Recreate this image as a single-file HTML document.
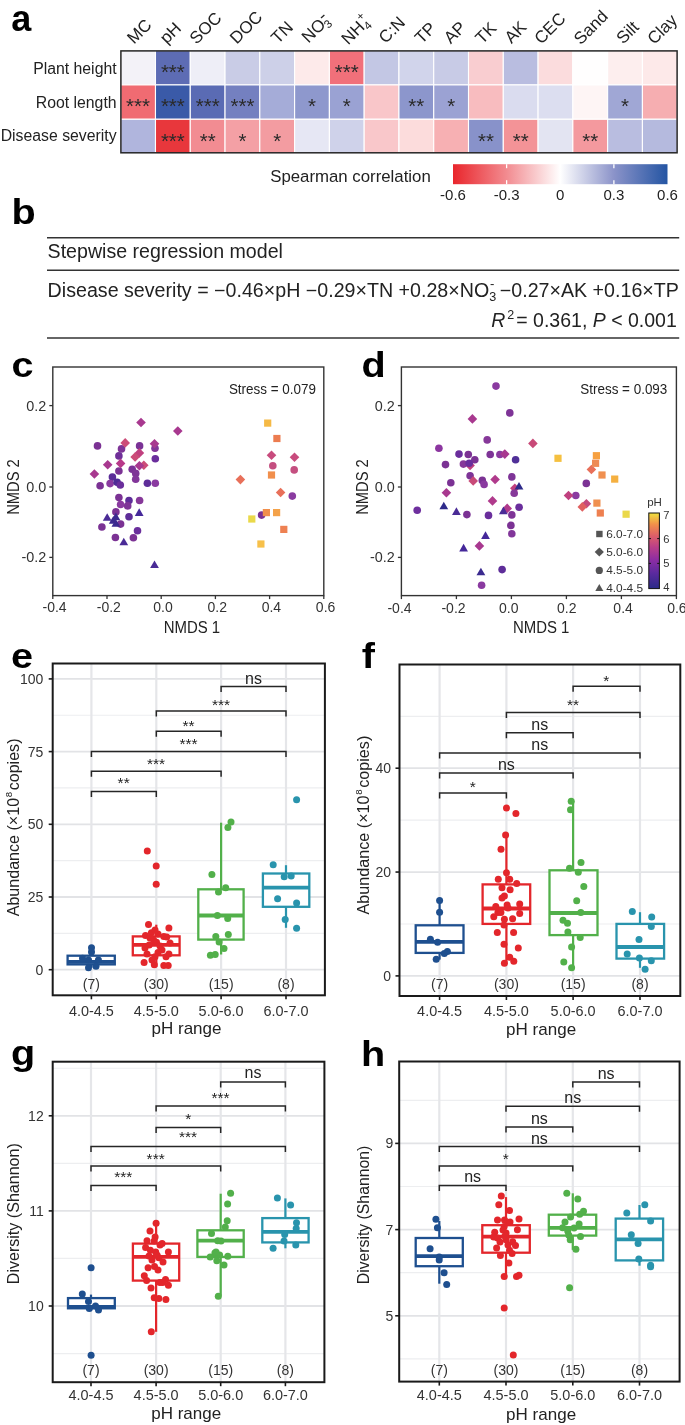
<!DOCTYPE html>
<html><head><meta charset="utf-8"><title>Figure</title>
<style>
html,body{margin:0;padding:0;background:#fff;}
body{width:685px;height:1425px;overflow:hidden;}
svg{display:block;font-family:"Liberation Sans", sans-serif;will-change:transform;}
</style></head><body>
<svg width="685" height="1425" viewBox="0 0 685 1425">
<rect width="685" height="1425" fill="#fff"/>
<g fill="#222">
<text x="0" y="0" font-size="36" font-weight="bold" fill="#000" transform="translate(11.30 31.00) scale(1.0 1)">a</text>
<rect x="120.70" y="50.60" width="34.78" height="34.33" fill="#f3f2f8" stroke="#fff" stroke-width="1.1"/>
<rect x="155.48" y="50.60" width="34.78" height="34.33" fill="#5d6cb4" stroke="#fff" stroke-width="1.1"/>
<rect x="190.26" y="50.60" width="34.78" height="34.33" fill="#eeeef7" stroke="#fff" stroke-width="1.1"/>
<rect x="225.04" y="50.60" width="34.78" height="34.33" fill="#c9cce6" stroke="#fff" stroke-width="1.1"/>
<rect x="259.82" y="50.60" width="34.78" height="34.33" fill="#cdd0e8" stroke="#fff" stroke-width="1.1"/>
<rect x="294.61" y="50.60" width="34.78" height="34.33" fill="#fdeaea" stroke="#fff" stroke-width="1.1"/>
<rect x="329.39" y="50.60" width="34.78" height="34.33" fill="#f1707a" stroke="#fff" stroke-width="1.1"/>
<rect x="364.17" y="50.60" width="34.78" height="34.33" fill="#c3c7e4" stroke="#fff" stroke-width="1.1"/>
<rect x="398.95" y="50.60" width="34.78" height="34.33" fill="#d1d4eb" stroke="#fff" stroke-width="1.1"/>
<rect x="433.73" y="50.60" width="34.78" height="34.33" fill="#c8cbe6" stroke="#fff" stroke-width="1.1"/>
<rect x="468.51" y="50.60" width="34.78" height="34.33" fill="#f9cdd0" stroke="#fff" stroke-width="1.1"/>
<rect x="503.29" y="50.60" width="34.78" height="34.33" fill="#b9bde0" stroke="#fff" stroke-width="1.1"/>
<rect x="538.08" y="50.60" width="34.78" height="34.33" fill="#fbdcdd" stroke="#fff" stroke-width="1.1"/>
<rect x="572.86" y="50.60" width="34.78" height="34.33" fill="#fffefe" stroke="#fff" stroke-width="1.1"/>
<rect x="607.64" y="50.60" width="34.78" height="34.33" fill="#fdeeee" stroke="#fff" stroke-width="1.1"/>
<rect x="642.42" y="50.60" width="34.78" height="34.33" fill="#fde9e9" stroke="#fff" stroke-width="1.1"/>
<rect x="120.70" y="84.93" width="34.78" height="34.33" fill="#f06b72" stroke="#fff" stroke-width="1.1"/>
<rect x="155.48" y="84.93" width="34.78" height="34.33" fill="#3a5aa8" stroke="#fff" stroke-width="1.1"/>
<rect x="190.26" y="84.93" width="34.78" height="34.33" fill="#5a6bb4" stroke="#fff" stroke-width="1.1"/>
<rect x="225.04" y="84.93" width="34.78" height="34.33" fill="#7480c0" stroke="#fff" stroke-width="1.1"/>
<rect x="259.82" y="84.93" width="34.78" height="34.33" fill="#a5acd8" stroke="#fff" stroke-width="1.1"/>
<rect x="294.61" y="84.93" width="34.78" height="34.33" fill="#8e98cd" stroke="#fff" stroke-width="1.1"/>
<rect x="329.39" y="84.93" width="34.78" height="34.33" fill="#9aa2d3" stroke="#fff" stroke-width="1.1"/>
<rect x="364.17" y="84.93" width="34.78" height="34.33" fill="#f9c6c9" stroke="#fff" stroke-width="1.1"/>
<rect x="398.95" y="84.93" width="34.78" height="34.33" fill="#8c96cc" stroke="#fff" stroke-width="1.1"/>
<rect x="433.73" y="84.93" width="34.78" height="34.33" fill="#9ba2d3" stroke="#fff" stroke-width="1.1"/>
<rect x="468.51" y="84.93" width="34.78" height="34.33" fill="#f8bcbf" stroke="#fff" stroke-width="1.1"/>
<rect x="503.29" y="84.93" width="34.78" height="34.33" fill="#dadcef" stroke="#fff" stroke-width="1.1"/>
<rect x="538.08" y="84.93" width="34.78" height="34.33" fill="#dcdef0" stroke="#fff" stroke-width="1.1"/>
<rect x="572.86" y="84.93" width="34.78" height="34.33" fill="#fef5f5" stroke="#fff" stroke-width="1.1"/>
<rect x="607.64" y="84.93" width="34.78" height="34.33" fill="#a0a7d5" stroke="#fff" stroke-width="1.1"/>
<rect x="642.42" y="84.93" width="34.78" height="34.33" fill="#f6aeb1" stroke="#fff" stroke-width="1.1"/>
<rect x="120.70" y="119.27" width="34.78" height="34.33" fill="#b0b5dd" stroke="#fff" stroke-width="1.1"/>
<rect x="155.48" y="119.27" width="34.78" height="34.33" fill="#e8373c" stroke="#fff" stroke-width="1.1"/>
<rect x="190.26" y="119.27" width="34.78" height="34.33" fill="#f28c92" stroke="#fff" stroke-width="1.1"/>
<rect x="225.04" y="119.27" width="34.78" height="34.33" fill="#f4a0a5" stroke="#fff" stroke-width="1.1"/>
<rect x="259.82" y="119.27" width="34.78" height="34.33" fill="#f39ca1" stroke="#fff" stroke-width="1.1"/>
<rect x="294.61" y="119.27" width="34.78" height="34.33" fill="#e6e7f4" stroke="#fff" stroke-width="1.1"/>
<rect x="329.39" y="119.27" width="34.78" height="34.33" fill="#cfd2ea" stroke="#fff" stroke-width="1.1"/>
<rect x="364.17" y="119.27" width="34.78" height="34.33" fill="#f9c7ca" stroke="#fff" stroke-width="1.1"/>
<rect x="398.95" y="119.27" width="34.78" height="34.33" fill="#fcdcdc" stroke="#fff" stroke-width="1.1"/>
<rect x="433.73" y="119.27" width="34.78" height="34.33" fill="#f7b0b3" stroke="#fff" stroke-width="1.1"/>
<rect x="468.51" y="119.27" width="34.78" height="34.33" fill="#8892ca" stroke="#fff" stroke-width="1.1"/>
<rect x="503.29" y="119.27" width="34.78" height="34.33" fill="#f39397" stroke="#fff" stroke-width="1.1"/>
<rect x="538.08" y="119.27" width="34.78" height="34.33" fill="#e3e4f2" stroke="#fff" stroke-width="1.1"/>
<rect x="572.86" y="119.27" width="34.78" height="34.33" fill="#f4999e" stroke="#fff" stroke-width="1.1"/>
<rect x="607.64" y="119.27" width="34.78" height="34.33" fill="#b9bde0" stroke="#fff" stroke-width="1.1"/>
<rect x="642.42" y="119.27" width="34.78" height="34.33" fill="#b5bade" stroke="#fff" stroke-width="1.1"/>
<text x="172.87" y="78.97" font-size="20.5" text-anchor="middle" fill="#2a2a2a">***</text>
<text x="346.78" y="78.97" font-size="20.5" text-anchor="middle" fill="#2a2a2a">***</text>
<text x="138.09" y="113.30" font-size="20.5" text-anchor="middle" fill="#2a2a2a">***</text>
<text x="172.87" y="113.30" font-size="20.5" text-anchor="middle" fill="#2a2a2a">***</text>
<text x="207.65" y="113.30" font-size="20.5" text-anchor="middle" fill="#2a2a2a">***</text>
<text x="242.43" y="113.30" font-size="20.5" text-anchor="middle" fill="#2a2a2a">***</text>
<text x="312.00" y="113.30" font-size="20.5" text-anchor="middle" fill="#2a2a2a">*</text>
<text x="346.78" y="113.30" font-size="20.5" text-anchor="middle" fill="#2a2a2a">*</text>
<text x="416.34" y="113.30" font-size="20.5" text-anchor="middle" fill="#2a2a2a">**</text>
<text x="451.12" y="113.30" font-size="20.5" text-anchor="middle" fill="#2a2a2a">*</text>
<text x="625.03" y="113.30" font-size="20.5" text-anchor="middle" fill="#2a2a2a">*</text>
<text x="172.87" y="147.63" font-size="20.5" text-anchor="middle" fill="#2a2a2a">***</text>
<text x="207.65" y="147.63" font-size="20.5" text-anchor="middle" fill="#2a2a2a">**</text>
<text x="242.43" y="147.63" font-size="20.5" text-anchor="middle" fill="#2a2a2a">*</text>
<text x="277.22" y="147.63" font-size="20.5" text-anchor="middle" fill="#2a2a2a">*</text>
<text x="485.90" y="147.63" font-size="20.5" text-anchor="middle" fill="#2a2a2a">**</text>
<text x="520.68" y="147.63" font-size="20.5" text-anchor="middle" fill="#2a2a2a">**</text>
<text x="590.25" y="147.63" font-size="20.5" text-anchor="middle" fill="#2a2a2a">**</text>
<rect x="120.90" y="50.90" width="556.20" height="101.90" fill="none" stroke="#262626" stroke-width="1.5"/>
<text x="116.60" y="73.70" font-size="15.8" text-anchor="end">Plant height</text>
<text x="116.60" y="108.00" font-size="15.8" text-anchor="end">Root length</text>
<text x="116.60" y="141.20" font-size="15.8" text-anchor="end">Disease severity</text>
<text x="139.50" y="31.60" font-size="17" text-anchor="middle" dominant-baseline="central" transform="rotate(-45 139.50 31.60)">MC</text>
<text x="170.50" y="33.00" font-size="17" text-anchor="middle" dominant-baseline="central" transform="rotate(-45 170.50 33.00)">pH</text>
<text x="205.70" y="28.10" font-size="17" text-anchor="middle" dominant-baseline="central" transform="rotate(-45 205.70 28.10)">SOC</text>
<text x="246.20" y="27.50" font-size="17" text-anchor="middle" dominant-baseline="central" transform="rotate(-45 246.20 27.50)">DOC</text>
<text x="282.20" y="32.50" font-size="17" text-anchor="middle" dominant-baseline="central" transform="rotate(-45 282.20 32.50)">TN</text>
<line x1="321.00" y1="18.10" x2="324.40" y2="15.00" stroke="#222" stroke-width="1.3"/>
<text x="315.60" y="28.90" font-size="17" text-anchor="middle" dominant-baseline="central" transform="rotate(-45 315.60 28.90)">NO<tspan font-size="11.5" dx="-0.8" dy="5.2">3</tspan></text>
<text x="355.90" y="30.00" font-size="17" text-anchor="middle" dominant-baseline="central" transform="rotate(-45 355.90 30.00)">NH<tspan font-size="11.5" dy="5.2">4</tspan><tspan font-size="11.5" dx="-5.2" dy="-12">+</tspan></text>
<text x="392.00" y="30.00" font-size="17" text-anchor="middle" dominant-baseline="central" transform="rotate(-45 392.00 30.00)">C:N</text>
<text x="425.50" y="33.00" font-size="17" text-anchor="middle" dominant-baseline="central" transform="rotate(-45 425.50 33.00)">TP</text>
<text x="455.00" y="32.60" font-size="17" text-anchor="middle" dominant-baseline="central" transform="rotate(-45 455.00 32.60)">AP</text>
<text x="486.00" y="33.10" font-size="17" text-anchor="middle" dominant-baseline="central" transform="rotate(-45 486.00 33.10)">TK</text>
<text x="515.70" y="32.40" font-size="17" text-anchor="middle" dominant-baseline="central" transform="rotate(-45 515.70 32.40)">AK</text>
<text x="550.00" y="28.40" font-size="17" text-anchor="middle" dominant-baseline="central" transform="rotate(-45 550.00 28.40)">CEC</text>
<text x="590.90" y="27.50" font-size="17" text-anchor="middle" dominant-baseline="central" transform="rotate(-45 590.90 27.50)">Sand</text>
<text x="627.70" y="32.60" font-size="17" text-anchor="middle" dominant-baseline="central" transform="rotate(-45 627.70 32.60)">Silt</text>
<text x="662.40" y="29.40" font-size="17" text-anchor="middle" dominant-baseline="central" transform="rotate(-45 662.40 29.40)">Clay</text>
<text x="270.20" y="181.90" font-size="16.8" textLength="160.60" lengthAdjust="spacingAndGlyphs">Spearman correlation</text>
<defs><linearGradient id="cb" x1="0" x2="1" y1="0" y2="0"><stop offset="0" stop-color="#e9262c"/><stop offset="0.25" stop-color="#f28b90"/><stop offset="0.5" stop-color="#ffffff"/><stop offset="0.75" stop-color="#8b93c9"/><stop offset="1" stop-color="#2455a3"/></linearGradient></defs>
<rect x="453.00" y="164.20" width="214.50" height="20.00" fill="url(#cb)"/>
<line x1="506.62" y1="164.20" x2="506.62" y2="168.20" stroke="#fff" stroke-width="1.3"/>
<line x1="506.62" y1="180.20" x2="506.62" y2="184.20" stroke="#fff" stroke-width="1.3"/>
<line x1="560.25" y1="164.20" x2="560.25" y2="168.20" stroke="#fff" stroke-width="1.3"/>
<line x1="560.25" y1="180.20" x2="560.25" y2="184.20" stroke="#fff" stroke-width="1.3"/>
<line x1="613.88" y1="164.20" x2="613.88" y2="168.20" stroke="#fff" stroke-width="1.3"/>
<line x1="613.88" y1="180.20" x2="613.88" y2="184.20" stroke="#fff" stroke-width="1.3"/>
<text x="453.00" y="199.60" font-size="15.0" text-anchor="middle">-0.6</text>
<text x="506.62" y="199.60" font-size="15.0" text-anchor="middle">-0.3</text>
<text x="560.25" y="199.60" font-size="15.0" text-anchor="middle">0</text>
<text x="613.88" y="199.60" font-size="15.0" text-anchor="middle">0.3</text>
<text x="667.50" y="199.60" font-size="15.0" text-anchor="middle">0.6</text>
<text x="0" y="0" font-size="36" font-weight="bold" fill="#000" transform="translate(11.50 223.60) scale(1.1 1)">b</text>
<line x1="47.00" y1="237.70" x2="679.20" y2="237.70" stroke="#333" stroke-width="1.5"/>
<line x1="47.00" y1="270.30" x2="679.20" y2="270.30" stroke="#333" stroke-width="1.5"/>
<line x1="47.00" y1="338.00" x2="679.20" y2="338.00" stroke="#333" stroke-width="1.5"/>
<text x="47.60" y="258.40" font-size="19.5" textLength="235.30" lengthAdjust="spacingAndGlyphs">Stepwise regression model</text>
<text x="47.6" y="296.7" font-size="19.5" textLength="631.3" lengthAdjust="spacingAndGlyphs">Disease severity = −0.46×pH −0.29×TN +0.28×NO<tspan font-size="12.5" dy="4">3</tspan><tspan font-size="13" dx="-6.2" dy="-13">-</tspan><tspan dy="9"> −0.27×AK +0.16×TP</tspan></text>
<text x="676.8" y="326.6" font-size="19.5" text-anchor="end"><tspan font-style="italic">R</tspan><tspan font-size="12.5" dx="1.8" dy="-8">2</tspan><tspan dx="2.2" dy="8">= 0.361, </tspan><tspan font-style="italic">P</tspan><tspan> &lt; 0.001</tspan></text>
<text x="0" y="0" font-size="36" font-weight="bold" fill="#000" transform="translate(11.50 376.80) scale(1.1 1)">c</text>
<rect x="52.80" y="367.00" width="271.00" height="228.60" fill="none" stroke="#333" stroke-width="1.4"/>
<line x1="52.80" y1="595.60" x2="52.80" y2="599.10" stroke="#333" stroke-width="1.3"/>
<text x="54.60" y="612.20" font-size="14.0" text-anchor="middle" fill="#333">-0.4</text>
<line x1="107.00" y1="595.60" x2="107.00" y2="599.10" stroke="#333" stroke-width="1.3"/>
<text x="108.80" y="612.20" font-size="14.0" text-anchor="middle" fill="#333">-0.2</text>
<line x1="161.20" y1="595.60" x2="161.20" y2="599.10" stroke="#333" stroke-width="1.3"/>
<text x="163.00" y="612.20" font-size="14.0" text-anchor="middle" fill="#333">0.0</text>
<line x1="215.40" y1="595.60" x2="215.40" y2="599.10" stroke="#333" stroke-width="1.3"/>
<text x="217.20" y="612.20" font-size="14.0" text-anchor="middle" fill="#333">0.2</text>
<line x1="269.60" y1="595.60" x2="269.60" y2="599.10" stroke="#333" stroke-width="1.3"/>
<text x="271.40" y="612.20" font-size="14.0" text-anchor="middle" fill="#333">0.4</text>
<line x1="323.80" y1="595.60" x2="323.80" y2="599.10" stroke="#333" stroke-width="1.3"/>
<text x="325.60" y="612.20" font-size="14.0" text-anchor="middle" fill="#333">0.6</text>
<line x1="49.30" y1="405.60" x2="52.80" y2="405.60" stroke="#333" stroke-width="1.3"/>
<text x="46.20" y="410.60" font-size="14.4" text-anchor="end" fill="#333">0.2</text>
<line x1="49.30" y1="487.00" x2="52.80" y2="487.00" stroke="#333" stroke-width="1.3"/>
<text x="46.20" y="492.00" font-size="14.4" text-anchor="end" fill="#333">0.0</text>
<line x1="49.30" y1="557.40" x2="52.80" y2="557.40" stroke="#333" stroke-width="1.3"/>
<text x="46.20" y="562.40" font-size="14.4" text-anchor="end" fill="#333">-0.2</text>
<text x="191.90" y="632.80" font-size="15.8" text-anchor="middle" textLength="56.50" lengthAdjust="spacingAndGlyphs">NMDS 1</text>
<text x="19.30" y="487.00" font-size="15.8" text-anchor="middle" textLength="55.60" lengthAdjust="spacingAndGlyphs" transform="rotate(-90 19.30 487.00)">NMDS 2</text>
<text x="315.90" y="393.50" font-size="14.0" text-anchor="end" textLength="87.00" lengthAdjust="spacingAndGlyphs">Stress = 0.079</text>
<text x="0" y="0" font-size="36" font-weight="bold" fill="#000" transform="translate(361.50 376.80) scale(1.1 1)">d</text>
<rect x="401.40" y="367.00" width="275.00" height="228.60" fill="none" stroke="#333" stroke-width="1.4"/>
<line x1="401.40" y1="595.60" x2="401.40" y2="599.10" stroke="#333" stroke-width="1.3"/>
<text x="399.50" y="612.90" font-size="14.0" text-anchor="middle" fill="#333">-0.4</text>
<line x1="456.40" y1="595.60" x2="456.40" y2="599.10" stroke="#333" stroke-width="1.3"/>
<text x="453.50" y="612.90" font-size="14.0" text-anchor="middle" fill="#333">-0.2</text>
<line x1="511.40" y1="595.60" x2="511.40" y2="599.10" stroke="#333" stroke-width="1.3"/>
<text x="508.80" y="612.90" font-size="14.0" text-anchor="middle" fill="#333">0.0</text>
<line x1="566.40" y1="595.60" x2="566.40" y2="599.10" stroke="#333" stroke-width="1.3"/>
<text x="566.70" y="612.90" font-size="14.0" text-anchor="middle" fill="#333">0.2</text>
<line x1="621.40" y1="595.60" x2="621.40" y2="599.10" stroke="#333" stroke-width="1.3"/>
<text x="623.10" y="612.90" font-size="14.0" text-anchor="middle" fill="#333">0.4</text>
<line x1="676.40" y1="595.60" x2="676.40" y2="599.10" stroke="#333" stroke-width="1.3"/>
<text x="676.90" y="612.90" font-size="14.0" text-anchor="middle" fill="#333">0.6</text>
<line x1="397.90" y1="405.60" x2="401.40" y2="405.60" stroke="#333" stroke-width="1.3"/>
<text x="394.80" y="410.60" font-size="14.4" text-anchor="end" fill="#333">0.2</text>
<line x1="397.90" y1="487.00" x2="401.40" y2="487.00" stroke="#333" stroke-width="1.3"/>
<text x="394.80" y="492.00" font-size="14.4" text-anchor="end" fill="#333">0.0</text>
<line x1="397.90" y1="557.40" x2="401.40" y2="557.40" stroke="#333" stroke-width="1.3"/>
<text x="394.80" y="562.40" font-size="14.4" text-anchor="end" fill="#333">-0.2</text>
<text x="541.20" y="632.80" font-size="15.8" text-anchor="middle" textLength="56.50" lengthAdjust="spacingAndGlyphs">NMDS 1</text>
<text x="367.80" y="487.00" font-size="15.8" text-anchor="middle" textLength="55.60" lengthAdjust="spacingAndGlyphs" transform="rotate(-90 367.80 487.00)">NMDS 2</text>
<text x="667.30" y="393.50" font-size="14.0" text-anchor="end" textLength="87.00" lengthAdjust="spacingAndGlyphs">Stress = 0.093</text>
<circle cx="97.50" cy="445.90" r="3.8" fill="#7b3294"/>
<circle cx="121.50" cy="448.90" r="3.8" fill="#7e3497"/>
<circle cx="139.60" cy="445.90" r="3.8" fill="#7a3296"/>
<circle cx="155.00" cy="448.20" r="3.8" fill="#813599"/>
<circle cx="118.90" cy="455.90" r="3.8" fill="#6f2f98"/>
<circle cx="155.30" cy="458.70" r="3.8" fill="#6a2e9c"/>
<circle cx="132.20" cy="469.20" r="3.8" fill="#7a3296"/>
<circle cx="118.90" cy="471.00" r="3.8" fill="#7b3294"/>
<circle cx="135.70" cy="473.40" r="3.8" fill="#7e3497"/>
<circle cx="135.70" cy="479.20" r="3.8" fill="#82369a"/>
<circle cx="112.40" cy="477.10" r="3.8" fill="#5b2c98"/>
<circle cx="110.10" cy="483.60" r="3.8" fill="#8a3aa0"/>
<circle cx="117.10" cy="482.20" r="3.8" fill="#4e2b96"/>
<circle cx="120.30" cy="485.00" r="3.8" fill="#6a2e9c"/>
<circle cx="100.10" cy="485.70" r="3.8" fill="#7b3294"/>
<circle cx="147.40" cy="483.20" r="3.8" fill="#5e2d99"/>
<circle cx="155.30" cy="483.20" r="3.8" fill="#8a3aa0"/>
<circle cx="118.90" cy="497.60" r="3.8" fill="#7b3294"/>
<circle cx="129.00" cy="500.50" r="3.8" fill="#5e2d99"/>
<circle cx="139.60" cy="500.50" r="3.8" fill="#863899"/>
<circle cx="120.60" cy="504.50" r="3.8" fill="#8a3aa0"/>
<circle cx="127.70" cy="505.90" r="3.8" fill="#7e3497"/>
<circle cx="115.90" cy="511.90" r="3.8" fill="#7b3294"/>
<circle cx="129.00" cy="516.80" r="3.8" fill="#5e2d99"/>
<circle cx="120.60" cy="524.10" r="3.8" fill="#7b3294"/>
<circle cx="101.90" cy="527.00" r="3.8" fill="#7b3294"/>
<circle cx="137.50" cy="530.80" r="3.8" fill="#6a2e9c"/>
<circle cx="115.40" cy="537.50" r="3.8" fill="#7b3294"/>
<circle cx="133.40" cy="537.80" r="3.8" fill="#7b3294"/>
<circle cx="272.80" cy="465.80" r="3.8" fill="#c44f80"/>
<circle cx="294.20" cy="469.90" r="3.8" fill="#c44f80"/>
<circle cx="292.30" cy="496.10" r="3.8" fill="#8a3ba0"/>
<circle cx="261.60" cy="515.10" r="3.8" fill="#7a3294"/>
<path d="M141.00 417.70L145.80 422.50L141.00 427.30L136.20 422.50Z" fill="#a8388f"/>
<path d="M177.80 426.20L182.60 431.00L177.80 435.80L173.00 431.00Z" fill="#a8388f"/>
<path d="M125.20 438.10L130.00 442.90L125.20 447.70L120.40 442.90Z" fill="#cc4c78"/>
<path d="M154.50 438.90L159.30 443.70L154.50 448.50L149.70 443.70Z" fill="#a8388f"/>
<path d="M139.40 448.10L144.20 452.90L139.40 457.70L134.60 452.90Z" fill="#c0407f"/>
<path d="M135.10 452.20L139.90 457.00L135.10 461.80L130.30 457.00Z" fill="#cc4c78"/>
<path d="M107.70 460.00L112.50 464.80L107.70 469.60L102.90 464.80Z" fill="#a8388f"/>
<path d="M120.60 458.60L125.40 463.40L120.60 468.20L115.80 463.40Z" fill="#b8398a"/>
<path d="M143.80 460.40L148.60 465.20L143.80 470.00L139.00 465.20Z" fill="#cc4c78"/>
<path d="M139.40 460.90L144.20 465.70L139.40 470.50L134.60 465.70Z" fill="#a8388f"/>
<path d="M94.40 469.20L99.20 474.00L94.40 478.80L89.60 474.00Z" fill="#a8388f"/>
<path d="M271.50 450.50L276.30 455.30L271.50 460.10L266.70 455.30Z" fill="#c84b7d"/>
<path d="M294.50 452.40L299.30 457.20L294.50 462.00L289.70 457.20Z" fill="#c84b7d"/>
<path d="M240.40 474.80L245.20 479.60L240.40 484.40L235.60 479.60Z" fill="#e8705a"/>
<path d="M280.60 487.70L285.40 492.50L280.60 497.30L275.80 492.50Z" fill="#e8705a"/>
<path d="M139.20 508.33L143.60 515.95L134.80 515.95Z" fill="#45289a"/>
<path d="M107.20 513.13L111.60 520.75L102.80 520.75Z" fill="#4a2b96"/>
<path d="M115.90 512.53L120.30 520.15L111.50 520.15Z" fill="#3b2a8f"/>
<path d="M113.30 516.03L117.70 523.65L108.90 523.65Z" fill="#3b2a8f"/>
<path d="M115.90 519.23L120.30 526.85L111.50 526.85Z" fill="#3b2a8f"/>
<path d="M123.80 537.63L128.20 545.25L119.40 545.25Z" fill="#4a2b96"/>
<path d="M154.50 560.43L158.90 568.05L150.10 568.05Z" fill="#4a2b96"/>
<rect x="264.10" y="419.50" width="7.2" height="7.2" fill="#f5b945"/>
<rect x="273.30" y="434.90" width="7.2" height="7.2" fill="#ec7c50"/>
<rect x="267.90" y="471.40" width="7.2" height="7.2" fill="#f18f4c"/>
<rect x="262.80" y="509.00" width="7.2" height="7.2" fill="#f18f4c"/>
<rect x="273.00" y="509.00" width="7.2" height="7.2" fill="#f4a24a"/>
<rect x="248.20" y="515.40" width="7.2" height="7.2" fill="#ead94a"/>
<rect x="280.20" y="525.80" width="7.2" height="7.2" fill="#ee8152"/>
<rect x="257.30" y="540.40" width="7.2" height="7.2" fill="#f7c04a"/>
<path d="M470.10 460.70L474.90 465.50L470.10 470.30L465.30 465.50Z" fill="#c0407f"/>
<path d="M514.80 483.50L519.60 488.30L514.80 493.10L510.00 488.30Z" fill="#c0407f"/>
<circle cx="496.00" cy="386.10" r="3.8" fill="#8a3aa0"/>
<circle cx="509.80" cy="412.90" r="3.8" fill="#7e3497"/>
<circle cx="487.20" cy="439.90" r="3.8" fill="#863899"/>
<circle cx="438.90" cy="448.30" r="3.8" fill="#8c36a0"/>
<circle cx="459.00" cy="454.10" r="3.8" fill="#6a2e9c"/>
<circle cx="468.30" cy="454.50" r="3.8" fill="#7b3294"/>
<circle cx="490.20" cy="454.50" r="3.8" fill="#7e3497"/>
<circle cx="499.90" cy="454.50" r="3.8" fill="#8a3aa0"/>
<circle cx="515.60" cy="459.70" r="3.8" fill="#503098"/>
<circle cx="474.80" cy="459.70" r="3.8" fill="#7b3294"/>
<circle cx="445.50" cy="464.60" r="3.8" fill="#7b3294"/>
<circle cx="463.40" cy="464.10" r="3.8" fill="#863899"/>
<circle cx="469.20" cy="463.20" r="3.8" fill="#6a2e9c"/>
<circle cx="470.10" cy="475.70" r="3.8" fill="#7e3497"/>
<circle cx="482.30" cy="480.40" r="3.8" fill="#7b3294"/>
<circle cx="484.10" cy="484.40" r="3.8" fill="#8a3aa0"/>
<circle cx="511.80" cy="476.90" r="3.8" fill="#7e3497"/>
<circle cx="450.80" cy="482.70" r="3.8" fill="#7b3294"/>
<circle cx="514.20" cy="493.20" r="3.8" fill="#863899"/>
<circle cx="519.10" cy="507.20" r="3.8" fill="#6a2e9c"/>
<circle cx="417.20" cy="510.20" r="3.8" fill="#6e2f9e"/>
<circle cx="466.90" cy="514.60" r="3.8" fill="#7b3294"/>
<circle cx="488.50" cy="515.40" r="3.8" fill="#6a2e9c"/>
<circle cx="511.80" cy="514.90" r="3.8" fill="#7e3497"/>
<circle cx="510.90" cy="525.40" r="3.8" fill="#7b3294"/>
<circle cx="511.80" cy="533.80" r="3.8" fill="#82369a"/>
<circle cx="502.10" cy="569.60" r="3.8" fill="#5e2d99"/>
<circle cx="481.60" cy="585.30" r="3.8" fill="#8a3aa0"/>
<circle cx="586.30" cy="483.40" r="3.8" fill="#7b3294"/>
<circle cx="575.80" cy="495.50" r="3.8" fill="#8a3aa0"/>
<path d="M472.40 414.10L477.20 418.90L472.40 423.70L467.60 418.90Z" fill="#a8388f"/>
<path d="M504.80 449.30L509.60 454.10L504.80 458.90L500.00 454.10Z" fill="#a8388f"/>
<path d="M473.20 476.10L478.00 480.90L473.20 485.70L468.40 480.90Z" fill="#c84a78"/>
<path d="M495.10 474.70L499.90 479.50L495.10 484.30L490.30 479.50Z" fill="#b03a8c"/>
<path d="M446.40 487.90L451.20 492.70L446.40 497.50L441.60 492.70Z" fill="#a8388f"/>
<path d="M492.50 496.10L497.30 500.90L492.50 505.70L487.70 500.90Z" fill="#b03a8c"/>
<path d="M507.20 503.60L512.00 508.40L507.20 513.20L502.40 508.40Z" fill="#b03a8c"/>
<path d="M479.40 541.10L484.20 545.90L479.40 550.70L474.60 545.90Z" fill="#a8388f"/>
<path d="M532.90 438.60L537.70 443.40L532.90 448.20L528.10 443.40Z" fill="#c84a78"/>
<path d="M591.40 464.70L596.20 469.50L591.40 474.30L586.60 469.50Z" fill="#e8705a"/>
<path d="M568.50 490.70L573.30 495.50L568.50 500.30L563.70 495.50Z" fill="#c0407f"/>
<path d="M586.40 499.00L591.20 503.80L586.40 508.60L581.60 503.80Z" fill="#c44a7d"/>
<path d="M582.30 502.10L587.10 506.90L582.30 511.70L577.50 506.90Z" fill="#e06060"/>
<path d="M519.00 481.93L523.40 489.55L514.60 489.55Z" fill="#2e2a8a"/>
<path d="M443.80 501.63L448.20 509.25L439.40 509.25Z" fill="#2e2a8a"/>
<path d="M456.40 507.33L460.80 514.95L452.00 514.95Z" fill="#4a2b96"/>
<path d="M503.40 506.53L507.80 514.15L499.00 514.15Z" fill="#4a2b96"/>
<path d="M485.50 531.33L489.90 538.95L481.10 538.95Z" fill="#45289a"/>
<path d="M463.60 543.83L468.00 551.45L459.20 551.45Z" fill="#45289a"/>
<path d="M480.90 567.63L485.30 575.25L476.50 575.25Z" fill="#3b2a8f"/>
<rect x="554.40" y="454.70" width="7.2" height="7.2" fill="#f5c040"/>
<rect x="592.80" y="452.10" width="7.2" height="7.2" fill="#f6a040"/>
<rect x="592.00" y="459.70" width="7.2" height="7.2" fill="#ee8a55"/>
<rect x="598.40" y="471.40" width="7.2" height="7.2" fill="#f09050"/>
<rect x="611.10" y="475.50" width="7.2" height="7.2" fill="#f5b040"/>
<rect x="593.30" y="499.50" width="7.2" height="7.2" fill="#f09050"/>
<rect x="596.70" y="509.40" width="7.2" height="7.2" fill="#ee8050"/>
<rect x="622.50" y="510.60" width="7.2" height="7.2" fill="#ead84a"/>
<text x="647.20" y="506.00" font-size="11.5" fill="#333">pH</text>
<defs><linearGradient id="pl" x1="0" x2="0" y1="1" y2="0"><stop offset="0" stop-color="#2b2a88"/><stop offset="0.2" stop-color="#5a2a9e"/><stop offset="0.38" stop-color="#8d2da3"/><stop offset="0.55" stop-color="#bb3f88"/><stop offset="0.7" stop-color="#dd5f68"/><stop offset="0.85" stop-color="#f2904a"/><stop offset="1" stop-color="#f1e33f"/></linearGradient></defs>
<rect x="648.80" y="513.00" width="10.60" height="75.60" fill="url(#pl)" stroke="#111" stroke-width="1.0"/>
<text x="663.20" y="518.80" font-size="11.2" fill="#333">7</text>
<line x1="648.80" y1="538.60" x2="651.00" y2="538.60" stroke="#111" stroke-width="1"/>
<line x1="657.20" y1="538.60" x2="659.40" y2="538.60" stroke="#111" stroke-width="1"/>
<text x="663.20" y="542.60" font-size="11.2" fill="#333">6</text>
<line x1="648.80" y1="563.40" x2="651.00" y2="563.40" stroke="#111" stroke-width="1"/>
<line x1="657.20" y1="563.40" x2="659.40" y2="563.40" stroke="#111" stroke-width="1"/>
<text x="663.20" y="567.40" font-size="11.2" fill="#333">5</text>
<text x="663.20" y="590.60" font-size="11.2" fill="#333">4</text>
<rect x="596.20" y="530.80" width="6.4" height="6.4" fill="#555"/>
<text x="606.20" y="538.20" font-size="10.6" fill="#333" textLength="36.90" lengthAdjust="spacingAndGlyphs">6.0-7.0</text>
<path d="M599.30 547.40L603.90 552.00L599.30 556.60L594.70 552.00Z" fill="#555"/>
<text x="606.20" y="556.00" font-size="10.6" fill="#333" textLength="36.90" lengthAdjust="spacingAndGlyphs">5.0-6.0</text>
<circle cx="599.30" cy="570.40" r="3.6" fill="#555"/>
<text x="606.20" y="574.40" font-size="10.6" fill="#333" textLength="36.90" lengthAdjust="spacingAndGlyphs">4.5-5.0</text>
<path d="M599.30 584.04L603.30 590.97L595.30 590.97Z" fill="#555"/>
<text x="606.20" y="592.00" font-size="10.6" fill="#333" textLength="36.90" lengthAdjust="spacingAndGlyphs">4.0-4.5</text>
<text x="0" y="0" font-size="36" font-weight="bold" fill="#000" transform="translate(11.00 668.00) scale(1.1 1)">e</text>
<line x1="52.70" y1="933.35" x2="324.90" y2="933.35" stroke="#edeef0" stroke-width="1.2"/>
<line x1="52.70" y1="860.65" x2="324.90" y2="860.65" stroke="#edeef0" stroke-width="1.2"/>
<line x1="52.70" y1="787.95" x2="324.90" y2="787.95" stroke="#edeef0" stroke-width="1.2"/>
<line x1="52.70" y1="715.25" x2="324.90" y2="715.25" stroke="#edeef0" stroke-width="1.2"/>
<line x1="52.70" y1="969.70" x2="324.90" y2="969.70" stroke="#e2e3e6" stroke-width="1.8"/>
<line x1="52.70" y1="897.00" x2="324.90" y2="897.00" stroke="#e2e3e6" stroke-width="1.8"/>
<line x1="52.70" y1="824.30" x2="324.90" y2="824.30" stroke="#e2e3e6" stroke-width="1.8"/>
<line x1="52.70" y1="751.60" x2="324.90" y2="751.60" stroke="#e2e3e6" stroke-width="1.8"/>
<line x1="52.70" y1="678.90" x2="324.90" y2="678.90" stroke="#e2e3e6" stroke-width="1.8"/>
<line x1="91.40" y1="663.50" x2="91.40" y2="995.30" stroke="#e5e6e9" stroke-width="2.2"/>
<line x1="156.30" y1="663.50" x2="156.30" y2="995.30" stroke="#e5e6e9" stroke-width="2.2"/>
<line x1="221.10" y1="663.50" x2="221.10" y2="995.30" stroke="#e5e6e9" stroke-width="2.2"/>
<line x1="286.00" y1="663.50" x2="286.00" y2="995.30" stroke="#e5e6e9" stroke-width="2.2"/>
<line x1="91.40" y1="947.80" x2="91.40" y2="955.70" stroke="#1e4f8f" stroke-width="2.2"/>
<line x1="91.40" y1="964.40" x2="91.40" y2="967.70" stroke="#1e4f8f" stroke-width="2.2"/>
<rect x="67.60" y="955.70" width="47.20" height="8.70" fill="#fff" stroke="#1e4f8f" stroke-width="2.3"/>
<line x1="67.60" y1="961.80" x2="114.80" y2="961.80" stroke="#1e4f8f" stroke-width="3.8"/>
<line x1="156.30" y1="924.70" x2="156.30" y2="936.40" stroke="#e3262b" stroke-width="2.2"/>
<line x1="156.30" y1="955.30" x2="156.30" y2="967.00" stroke="#e3262b" stroke-width="2.2"/>
<rect x="132.80" y="936.40" width="46.80" height="18.90" fill="#fff" stroke="#e3262b" stroke-width="2.3"/>
<line x1="132.80" y1="944.80" x2="179.60" y2="944.80" stroke="#e3262b" stroke-width="3.8"/>
<line x1="221.10" y1="822.70" x2="221.10" y2="889.30" stroke="#52b04a" stroke-width="2.2"/>
<line x1="221.10" y1="939.60" x2="221.10" y2="954.50" stroke="#52b04a" stroke-width="2.2"/>
<rect x="198.30" y="889.30" width="45.30" height="50.30" fill="#fff" stroke="#52b04a" stroke-width="2.3"/>
<line x1="198.30" y1="915.50" x2="243.60" y2="915.50" stroke="#52b04a" stroke-width="3.8"/>
<line x1="286.00" y1="865.20" x2="286.00" y2="873.50" stroke="#2994ad" stroke-width="2.2"/>
<line x1="286.00" y1="906.80" x2="286.00" y2="927.80" stroke="#2994ad" stroke-width="2.2"/>
<rect x="262.90" y="873.50" width="46.40" height="33.30" fill="#fff" stroke="#2994ad" stroke-width="2.3"/>
<line x1="262.90" y1="887.70" x2="309.30" y2="887.70" stroke="#2994ad" stroke-width="3.8"/>
<circle cx="91.50" cy="947.80" r="3.5" fill="#1e4f8f"/>
<circle cx="91.50" cy="952.10" r="3.5" fill="#1e4f8f"/>
<circle cx="82.50" cy="958.20" r="3.5" fill="#1e4f8f"/>
<circle cx="88.50" cy="960.10" r="3.5" fill="#1e4f8f"/>
<circle cx="98.40" cy="960.10" r="3.5" fill="#1e4f8f"/>
<circle cx="88.50" cy="967.70" r="3.5" fill="#1e4f8f"/>
<circle cx="96.00" cy="966.30" r="3.5" fill="#1e4f8f"/>
<circle cx="147.30" cy="851.00" r="3.5" fill="#e3262b"/>
<circle cx="156.20" cy="866.00" r="3.5" fill="#e3262b"/>
<circle cx="156.20" cy="884.20" r="3.5" fill="#e3262b"/>
<circle cx="148.50" cy="924.40" r="3.5" fill="#e3262b"/>
<circle cx="168.90" cy="928.00" r="3.5" fill="#e3262b"/>
<circle cx="151.40" cy="932.70" r="3.5" fill="#e3262b"/>
<circle cx="145.50" cy="935.60" r="3.5" fill="#e3262b"/>
<circle cx="163.80" cy="936.40" r="3.5" fill="#e3262b"/>
<circle cx="166.70" cy="937.10" r="3.5" fill="#e3262b"/>
<circle cx="153.60" cy="940.00" r="3.5" fill="#e3262b"/>
<circle cx="156.50" cy="942.20" r="3.5" fill="#e3262b"/>
<circle cx="149.20" cy="945.10" r="3.5" fill="#e3262b"/>
<circle cx="158.00" cy="952.40" r="3.5" fill="#e3262b"/>
<circle cx="147.00" cy="953.90" r="3.5" fill="#e3262b"/>
<circle cx="168.90" cy="953.90" r="3.5" fill="#e3262b"/>
<circle cx="166.00" cy="956.80" r="3.5" fill="#e3262b"/>
<circle cx="155.00" cy="956.80" r="3.5" fill="#e3262b"/>
<circle cx="144.10" cy="962.60" r="3.5" fill="#e3262b"/>
<circle cx="154.30" cy="964.80" r="3.5" fill="#e3262b"/>
<circle cx="163.80" cy="965.50" r="3.5" fill="#e3262b"/>
<circle cx="168.20" cy="965.50" r="3.5" fill="#e3262b"/>
<circle cx="160.00" cy="946.00" r="3.5" fill="#e3262b"/>
<circle cx="150.00" cy="938.00" r="3.5" fill="#e3262b"/>
<circle cx="162.00" cy="950.00" r="3.5" fill="#e3262b"/>
<circle cx="152.00" cy="960.00" r="3.5" fill="#e3262b"/>
<circle cx="158.00" cy="934.00" r="3.5" fill="#e3262b"/>
<circle cx="145.00" cy="948.00" r="3.5" fill="#e3262b"/>
<circle cx="170.00" cy="943.00" r="3.5" fill="#e3262b"/>
<circle cx="155.00" cy="930.00" r="3.5" fill="#e3262b"/>
<circle cx="231.00" cy="822.00" r="3.5" fill="#52b04a"/>
<circle cx="227.90" cy="827.50" r="3.5" fill="#52b04a"/>
<circle cx="211.90" cy="874.60" r="3.5" fill="#52b04a"/>
<circle cx="225.70" cy="887.70" r="3.5" fill="#52b04a"/>
<circle cx="218.50" cy="892.10" r="3.5" fill="#52b04a"/>
<circle cx="217.40" cy="915.50" r="3.5" fill="#52b04a"/>
<circle cx="227.70" cy="918.40" r="3.5" fill="#52b04a"/>
<circle cx="215.80" cy="936.60" r="3.5" fill="#52b04a"/>
<circle cx="228.30" cy="934.40" r="3.5" fill="#52b04a"/>
<circle cx="219.10" cy="942.00" r="3.5" fill="#52b04a"/>
<circle cx="224.00" cy="948.40" r="3.5" fill="#52b04a"/>
<circle cx="210.40" cy="955.20" r="3.5" fill="#52b04a"/>
<circle cx="215.20" cy="954.50" r="3.5" fill="#52b04a"/>
<circle cx="296.60" cy="799.70" r="3.5" fill="#2994ad"/>
<circle cx="273.20" cy="864.70" r="3.5" fill="#2994ad"/>
<circle cx="284.20" cy="876.80" r="3.5" fill="#2994ad"/>
<circle cx="291.20" cy="876.10" r="3.5" fill="#2994ad"/>
<circle cx="277.60" cy="898.70" r="3.5" fill="#2994ad"/>
<circle cx="296.60" cy="903.10" r="3.5" fill="#2994ad"/>
<circle cx="285.20" cy="919.50" r="3.5" fill="#2994ad"/>
<circle cx="296.60" cy="928.20" r="3.5" fill="#2994ad"/>
<path d="M221.10 692.10V686.60H286.00V692.10" fill="none" stroke="#262626" stroke-width="1.5"/>
<text x="253.55" y="684.40" font-size="16" text-anchor="middle">ns</text>
<path d="M156.30 716.60V711.10H286.00V716.60" fill="none" stroke="#262626" stroke-width="1.5"/>
<text x="220.95" y="709.70" font-size="15.5" text-anchor="middle">***</text>
<path d="M156.30 736.70V731.20H221.10V736.70" fill="none" stroke="#262626" stroke-width="1.5"/>
<text x="188.50" y="730.70" font-size="15.5" text-anchor="middle">**</text>
<path d="M91.40 757.00V751.50H286.00V757.00" fill="none" stroke="#262626" stroke-width="1.5"/>
<text x="188.50" y="748.50" font-size="15.5" text-anchor="middle">***</text>
<path d="M91.40 776.70V771.20H221.10V776.70" fill="none" stroke="#262626" stroke-width="1.5"/>
<text x="156.05" y="768.60" font-size="15.5" text-anchor="middle">***</text>
<path d="M91.40 797.10V791.60H156.30V797.10" fill="none" stroke="#262626" stroke-width="1.5"/>
<text x="123.65" y="788.20" font-size="15.5" text-anchor="middle">**</text>
<rect x="52.70" y="663.50" width="272.20" height="331.80" fill="none" stroke="#1a1a1a" stroke-width="2.0"/>
<line x1="48.70" y1="969.70" x2="52.70" y2="969.70" stroke="#1a1a1a" stroke-width="1.6"/>
<text x="43.40" y="974.70" font-size="14.0" text-anchor="end" fill="#333">0</text>
<line x1="48.70" y1="897.00" x2="52.70" y2="897.00" stroke="#1a1a1a" stroke-width="1.6"/>
<text x="43.40" y="902.00" font-size="14.0" text-anchor="end" fill="#333">25</text>
<line x1="48.70" y1="824.30" x2="52.70" y2="824.30" stroke="#1a1a1a" stroke-width="1.6"/>
<text x="43.40" y="829.30" font-size="14.0" text-anchor="end" fill="#333">50</text>
<line x1="48.70" y1="751.60" x2="52.70" y2="751.60" stroke="#1a1a1a" stroke-width="1.6"/>
<text x="43.40" y="756.60" font-size="14.0" text-anchor="end" fill="#333">75</text>
<line x1="48.70" y1="678.90" x2="52.70" y2="678.90" stroke="#1a1a1a" stroke-width="1.6"/>
<text x="43.40" y="683.90" font-size="14.0" text-anchor="end" fill="#333">100</text>
<line x1="91.40" y1="995.30" x2="91.40" y2="999.30" stroke="#1a1a1a" stroke-width="1.6"/>
<text x="91.40" y="1015.50" font-size="13.8" text-anchor="middle" fill="#333" textLength="45.00" lengthAdjust="spacingAndGlyphs">4.0-4.5</text>
<text x="91.40" y="989.20" font-size="14.0" text-anchor="middle" fill="#333">(7)</text>
<line x1="156.30" y1="995.30" x2="156.30" y2="999.30" stroke="#1a1a1a" stroke-width="1.6"/>
<text x="156.30" y="1015.50" font-size="13.8" text-anchor="middle" fill="#333" textLength="45.00" lengthAdjust="spacingAndGlyphs">4.5-5.0</text>
<text x="156.30" y="989.20" font-size="14.0" text-anchor="middle" fill="#333">(30)</text>
<line x1="221.10" y1="995.30" x2="221.10" y2="999.30" stroke="#1a1a1a" stroke-width="1.6"/>
<text x="221.10" y="1015.50" font-size="13.8" text-anchor="middle" fill="#333" textLength="45.00" lengthAdjust="spacingAndGlyphs">5.0-6.0</text>
<text x="221.10" y="989.20" font-size="14.0" text-anchor="middle" fill="#333">(15)</text>
<line x1="286.00" y1="995.30" x2="286.00" y2="999.30" stroke="#1a1a1a" stroke-width="1.6"/>
<text x="286.00" y="1015.50" font-size="13.8" text-anchor="middle" fill="#333" textLength="45.00" lengthAdjust="spacingAndGlyphs">6.0-7.0</text>
<text x="286.00" y="989.20" font-size="14.0" text-anchor="middle" fill="#333">(8)</text>
<text x="186.50" y="1034.10" font-size="17.0" text-anchor="middle" textLength="70.00" lengthAdjust="spacingAndGlyphs">pH range</text>
<text x="19.20" y="827.40" font-size="16" text-anchor="middle" textLength="177.8" lengthAdjust="spacingAndGlyphs" transform="rotate(-90 19.20 827.40)">Abundance (×10<tspan font-size="9.5" dx="0.8" dy="-7">8</tspan><tspan dx="1.5" dy="7">copies)</tspan></text>
<text x="0" y="0" font-size="36" font-weight="bold" fill="#000" transform="translate(361.80 668.00) scale(1.1 1)">f</text>
<line x1="399.50" y1="923.98" x2="680.30" y2="923.98" stroke="#edeef0" stroke-width="1.2"/>
<line x1="399.50" y1="820.12" x2="680.30" y2="820.12" stroke="#edeef0" stroke-width="1.2"/>
<line x1="399.50" y1="716.28" x2="680.30" y2="716.28" stroke="#edeef0" stroke-width="1.2"/>
<line x1="399.50" y1="975.90" x2="680.30" y2="975.90" stroke="#e2e3e6" stroke-width="1.8"/>
<line x1="399.50" y1="872.05" x2="680.30" y2="872.05" stroke="#e2e3e6" stroke-width="1.8"/>
<line x1="399.50" y1="768.20" x2="680.30" y2="768.20" stroke="#e2e3e6" stroke-width="1.8"/>
<line x1="439.60" y1="664.50" x2="439.60" y2="996.00" stroke="#e5e6e9" stroke-width="2.2"/>
<line x1="506.40" y1="664.50" x2="506.40" y2="996.00" stroke="#e5e6e9" stroke-width="2.2"/>
<line x1="573.10" y1="664.50" x2="573.10" y2="996.00" stroke="#e5e6e9" stroke-width="2.2"/>
<line x1="640.00" y1="664.50" x2="640.00" y2="996.00" stroke="#e5e6e9" stroke-width="2.2"/>
<line x1="439.60" y1="900.40" x2="439.60" y2="925.30" stroke="#1e4f8f" stroke-width="2.2"/>
<line x1="439.60" y1="952.90" x2="439.60" y2="959.60" stroke="#1e4f8f" stroke-width="2.2"/>
<rect x="415.70" y="925.30" width="47.80" height="27.60" fill="#fff" stroke="#1e4f8f" stroke-width="2.3"/>
<line x1="415.70" y1="941.80" x2="463.50" y2="941.80" stroke="#1e4f8f" stroke-width="3.8"/>
<line x1="506.40" y1="835.00" x2="506.40" y2="884.40" stroke="#e3262b" stroke-width="2.2"/>
<line x1="506.40" y1="923.90" x2="506.40" y2="962.70" stroke="#e3262b" stroke-width="2.2"/>
<rect x="482.60" y="884.40" width="47.60" height="39.50" fill="#fff" stroke="#e3262b" stroke-width="2.3"/>
<line x1="482.60" y1="908.50" x2="530.20" y2="908.50" stroke="#e3262b" stroke-width="3.8"/>
<line x1="573.10" y1="801.20" x2="573.10" y2="870.30" stroke="#52b04a" stroke-width="2.2"/>
<line x1="573.10" y1="935.10" x2="573.10" y2="967.80" stroke="#52b04a" stroke-width="2.2"/>
<rect x="549.50" y="870.30" width="48.00" height="64.80" fill="#fff" stroke="#52b04a" stroke-width="2.3"/>
<line x1="549.50" y1="913.00" x2="597.50" y2="913.00" stroke="#52b04a" stroke-width="3.8"/>
<line x1="640.00" y1="912.20" x2="640.00" y2="923.90" stroke="#2994ad" stroke-width="2.2"/>
<line x1="640.00" y1="958.60" x2="640.00" y2="967.80" stroke="#2994ad" stroke-width="2.2"/>
<rect x="616.50" y="923.90" width="47.60" height="34.70" fill="#fff" stroke="#2994ad" stroke-width="2.3"/>
<line x1="616.50" y1="947.00" x2="664.10" y2="947.00" stroke="#2994ad" stroke-width="3.8"/>
<circle cx="439.60" cy="900.40" r="3.5" fill="#1e4f8f"/>
<circle cx="439.60" cy="912.20" r="3.5" fill="#1e4f8f"/>
<circle cx="430.40" cy="939.20" r="3.5" fill="#1e4f8f"/>
<circle cx="437.60" cy="942.30" r="3.5" fill="#1e4f8f"/>
<circle cx="447.40" cy="951.50" r="3.5" fill="#1e4f8f"/>
<circle cx="444.30" cy="953.50" r="3.5" fill="#1e4f8f"/>
<circle cx="436.20" cy="959.20" r="3.5" fill="#1e4f8f"/>
<circle cx="506.50" cy="808.00" r="3.5" fill="#e3262b"/>
<circle cx="515.90" cy="813.50" r="3.5" fill="#e3262b"/>
<circle cx="505.60" cy="835.00" r="3.5" fill="#e3262b"/>
<circle cx="501.00" cy="849.30" r="3.5" fill="#e3262b"/>
<circle cx="506.50" cy="872.80" r="3.5" fill="#e3262b"/>
<circle cx="498.30" cy="879.30" r="3.5" fill="#e3262b"/>
<circle cx="509.70" cy="879.30" r="3.5" fill="#e3262b"/>
<circle cx="516.70" cy="883.40" r="3.5" fill="#e3262b"/>
<circle cx="502.00" cy="887.70" r="3.5" fill="#e3262b"/>
<circle cx="510.10" cy="889.70" r="3.5" fill="#e3262b"/>
<circle cx="504.40" cy="895.90" r="3.5" fill="#e3262b"/>
<circle cx="495.80" cy="906.50" r="3.5" fill="#e3262b"/>
<circle cx="507.10" cy="905.10" r="3.5" fill="#e3262b"/>
<circle cx="519.70" cy="904.00" r="3.5" fill="#e3262b"/>
<circle cx="497.90" cy="912.60" r="3.5" fill="#e3262b"/>
<circle cx="519.70" cy="913.60" r="3.5" fill="#e3262b"/>
<circle cx="493.80" cy="916.70" r="3.5" fill="#e3262b"/>
<circle cx="504.40" cy="919.20" r="3.5" fill="#e3262b"/>
<circle cx="512.60" cy="918.80" r="3.5" fill="#e3262b"/>
<circle cx="504.00" cy="924.90" r="3.5" fill="#e3262b"/>
<circle cx="497.30" cy="932.40" r="3.5" fill="#e3262b"/>
<circle cx="513.60" cy="932.40" r="3.5" fill="#e3262b"/>
<circle cx="504.00" cy="944.30" r="3.5" fill="#e3262b"/>
<circle cx="518.30" cy="948.00" r="3.5" fill="#e3262b"/>
<circle cx="509.70" cy="957.20" r="3.5" fill="#e3262b"/>
<circle cx="513.80" cy="961.30" r="3.5" fill="#e3262b"/>
<circle cx="504.40" cy="963.30" r="3.5" fill="#e3262b"/>
<circle cx="500.90" cy="912.60" r="3.5" fill="#e3262b"/>
<circle cx="508.00" cy="908.00" r="3.5" fill="#e3262b"/>
<circle cx="502.00" cy="898.00" r="3.5" fill="#e3262b"/>
<circle cx="571.20" cy="801.20" r="3.5" fill="#52b04a"/>
<circle cx="570.50" cy="809.80" r="3.5" fill="#52b04a"/>
<circle cx="581.00" cy="862.60" r="3.5" fill="#52b04a"/>
<circle cx="569.50" cy="868.30" r="3.5" fill="#52b04a"/>
<circle cx="578.30" cy="872.20" r="3.5" fill="#52b04a"/>
<circle cx="583.80" cy="886.50" r="3.5" fill="#52b04a"/>
<circle cx="576.70" cy="900.80" r="3.5" fill="#52b04a"/>
<circle cx="580.80" cy="912.60" r="3.5" fill="#52b04a"/>
<circle cx="563.00" cy="920.20" r="3.5" fill="#52b04a"/>
<circle cx="567.50" cy="923.30" r="3.5" fill="#52b04a"/>
<circle cx="567.90" cy="932.00" r="3.5" fill="#52b04a"/>
<circle cx="580.20" cy="937.60" r="3.5" fill="#52b04a"/>
<circle cx="571.60" cy="947.00" r="3.5" fill="#52b04a"/>
<circle cx="563.80" cy="962.10" r="3.5" fill="#52b04a"/>
<circle cx="571.60" cy="967.80" r="3.5" fill="#52b04a"/>
<circle cx="632.30" cy="911.60" r="3.5" fill="#2994ad"/>
<circle cx="651.70" cy="917.10" r="3.5" fill="#2994ad"/>
<circle cx="651.30" cy="926.50" r="3.5" fill="#2994ad"/>
<circle cx="639.00" cy="939.60" r="3.5" fill="#2994ad"/>
<circle cx="627.20" cy="953.90" r="3.5" fill="#2994ad"/>
<circle cx="639.40" cy="958.00" r="3.5" fill="#2994ad"/>
<circle cx="651.30" cy="960.70" r="3.5" fill="#2994ad"/>
<circle cx="645.10" cy="969.20" r="3.5" fill="#2994ad"/>
<path d="M573.10 691.70V686.20H640.00V691.70" fill="none" stroke="#262626" stroke-width="1.5"/>
<text x="606.35" y="685.50" font-size="15.5" text-anchor="middle">*</text>
<path d="M506.40 717.90V712.40H640.00V717.90" fill="none" stroke="#262626" stroke-width="1.5"/>
<text x="573.00" y="709.60" font-size="15.5" text-anchor="middle">**</text>
<path d="M506.40 738.30V732.80H573.10V738.30" fill="none" stroke="#262626" stroke-width="1.5"/>
<text x="539.75" y="729.80" font-size="16" text-anchor="middle">ns</text>
<path d="M439.60 758.40V752.90H640.00V758.40" fill="none" stroke="#262626" stroke-width="1.5"/>
<text x="539.80" y="750.30" font-size="16" text-anchor="middle">ns</text>
<path d="M439.60 778.60V773.10H573.10V778.60" fill="none" stroke="#262626" stroke-width="1.5"/>
<text x="506.35" y="770.10" font-size="16" text-anchor="middle">ns</text>
<path d="M439.60 798.60V793.10H506.40V798.60" fill="none" stroke="#262626" stroke-width="1.5"/>
<text x="472.80" y="791.60" font-size="15.5" text-anchor="middle">*</text>
<rect x="399.50" y="664.50" width="280.80" height="331.50" fill="none" stroke="#1a1a1a" stroke-width="2.0"/>
<line x1="395.50" y1="975.90" x2="399.50" y2="975.90" stroke="#1a1a1a" stroke-width="1.6"/>
<text x="391.00" y="980.90" font-size="14.0" text-anchor="end" fill="#333">0</text>
<line x1="395.50" y1="872.05" x2="399.50" y2="872.05" stroke="#1a1a1a" stroke-width="1.6"/>
<text x="391.00" y="877.05" font-size="14.0" text-anchor="end" fill="#333">20</text>
<line x1="395.50" y1="768.20" x2="399.50" y2="768.20" stroke="#1a1a1a" stroke-width="1.6"/>
<text x="391.00" y="773.20" font-size="14.0" text-anchor="end" fill="#333">40</text>
<line x1="439.60" y1="996.00" x2="439.60" y2="1000.00" stroke="#1a1a1a" stroke-width="1.6"/>
<text x="439.60" y="1015.70" font-size="13.8" text-anchor="middle" fill="#333" textLength="45.00" lengthAdjust="spacingAndGlyphs">4.0-4.5</text>
<text x="439.60" y="989.20" font-size="14.0" text-anchor="middle" fill="#333">(7)</text>
<line x1="506.40" y1="996.00" x2="506.40" y2="1000.00" stroke="#1a1a1a" stroke-width="1.6"/>
<text x="506.40" y="1015.70" font-size="13.8" text-anchor="middle" fill="#333" textLength="45.00" lengthAdjust="spacingAndGlyphs">4.5-5.0</text>
<text x="506.40" y="989.20" font-size="14.0" text-anchor="middle" fill="#333">(30)</text>
<line x1="573.10" y1="996.00" x2="573.10" y2="1000.00" stroke="#1a1a1a" stroke-width="1.6"/>
<text x="573.10" y="1015.70" font-size="13.8" text-anchor="middle" fill="#333" textLength="45.00" lengthAdjust="spacingAndGlyphs">5.0-6.0</text>
<text x="573.10" y="989.20" font-size="14.0" text-anchor="middle" fill="#333">(15)</text>
<line x1="640.00" y1="996.00" x2="640.00" y2="1000.00" stroke="#1a1a1a" stroke-width="1.6"/>
<text x="640.00" y="1015.70" font-size="13.8" text-anchor="middle" fill="#333" textLength="45.00" lengthAdjust="spacingAndGlyphs">6.0-7.0</text>
<text x="640.00" y="989.20" font-size="14.0" text-anchor="middle" fill="#333">(8)</text>
<text x="541.10" y="1034.60" font-size="17.0" text-anchor="middle" textLength="70.00" lengthAdjust="spacingAndGlyphs">pH range</text>
<text x="369.20" y="825.10" font-size="16" text-anchor="middle" textLength="178.8" lengthAdjust="spacingAndGlyphs" transform="rotate(-90 369.20 825.10)">Abundance (×10<tspan font-size="9.5" dx="0.8" dy="-7">8</tspan><tspan dx="1.5" dy="7">copies)</tspan></text>
<text x="0" y="0" font-size="36" font-weight="bold" fill="#000" transform="translate(11.00 1064.50) scale(1.1 1)">g</text>
<line x1="52.70" y1="1353.55" x2="324.40" y2="1353.55" stroke="#edeef0" stroke-width="1.2"/>
<line x1="52.70" y1="1258.45" x2="324.40" y2="1258.45" stroke="#edeef0" stroke-width="1.2"/>
<line x1="52.70" y1="1163.35" x2="324.40" y2="1163.35" stroke="#edeef0" stroke-width="1.2"/>
<line x1="52.70" y1="1068.25" x2="324.40" y2="1068.25" stroke="#edeef0" stroke-width="1.2"/>
<line x1="52.70" y1="1306.00" x2="324.40" y2="1306.00" stroke="#e2e3e6" stroke-width="1.8"/>
<line x1="52.70" y1="1210.90" x2="324.40" y2="1210.90" stroke="#e2e3e6" stroke-width="1.8"/>
<line x1="52.70" y1="1115.80" x2="324.40" y2="1115.80" stroke="#e2e3e6" stroke-width="1.8"/>
<line x1="91.00" y1="1061.70" x2="91.00" y2="1382.20" stroke="#e5e6e9" stroke-width="2.2"/>
<line x1="156.10" y1="1061.70" x2="156.10" y2="1382.20" stroke="#e5e6e9" stroke-width="2.2"/>
<line x1="220.70" y1="1061.70" x2="220.70" y2="1382.20" stroke="#e5e6e9" stroke-width="2.2"/>
<line x1="285.40" y1="1061.70" x2="285.40" y2="1382.20" stroke="#e5e6e9" stroke-width="2.2"/>
<line x1="91.00" y1="1294.60" x2="91.00" y2="1298.10" stroke="#1e4f8f" stroke-width="2.2"/>
<line x1="91.00" y1="1308.30" x2="91.00" y2="1310.00" stroke="#1e4f8f" stroke-width="2.2"/>
<rect x="68.00" y="1298.10" width="46.80" height="10.20" fill="#fff" stroke="#1e4f8f" stroke-width="2.3"/>
<line x1="68.00" y1="1306.80" x2="114.80" y2="1306.80" stroke="#1e4f8f" stroke-width="3.8"/>
<line x1="156.10" y1="1222.70" x2="156.10" y2="1243.60" stroke="#e3262b" stroke-width="2.2"/>
<line x1="156.10" y1="1280.60" x2="156.10" y2="1331.80" stroke="#e3262b" stroke-width="2.2"/>
<rect x="132.90" y="1243.60" width="46.30" height="37.00" fill="#fff" stroke="#e3262b" stroke-width="2.3"/>
<line x1="132.90" y1="1256.90" x2="179.20" y2="1256.90" stroke="#e3262b" stroke-width="3.8"/>
<line x1="220.70" y1="1193.70" x2="220.70" y2="1230.30" stroke="#52b04a" stroke-width="2.2"/>
<line x1="220.70" y1="1256.90" x2="220.70" y2="1295.80" stroke="#52b04a" stroke-width="2.2"/>
<rect x="197.40" y="1230.30" width="46.30" height="26.60" fill="#fff" stroke="#52b04a" stroke-width="2.3"/>
<line x1="197.40" y1="1240.70" x2="243.70" y2="1240.70" stroke="#52b04a" stroke-width="3.8"/>
<line x1="285.40" y1="1198.40" x2="285.40" y2="1218.10" stroke="#2994ad" stroke-width="2.2"/>
<line x1="285.40" y1="1242.40" x2="285.40" y2="1248.30" stroke="#2994ad" stroke-width="2.2"/>
<rect x="262.30" y="1218.10" width="46.30" height="24.30" fill="#fff" stroke="#2994ad" stroke-width="2.3"/>
<line x1="262.30" y1="1231.90" x2="308.60" y2="1231.90" stroke="#2994ad" stroke-width="3.8"/>
<circle cx="91.10" cy="1267.80" r="3.5" fill="#1e4f8f"/>
<circle cx="82.30" cy="1294.10" r="3.5" fill="#1e4f8f"/>
<circle cx="88.50" cy="1301.60" r="3.5" fill="#1e4f8f"/>
<circle cx="89.30" cy="1308.60" r="3.5" fill="#1e4f8f"/>
<circle cx="95.50" cy="1306.00" r="3.5" fill="#1e4f8f"/>
<circle cx="98.50" cy="1310.00" r="3.5" fill="#1e4f8f"/>
<circle cx="91.10" cy="1355.20" r="3.5" fill="#1e4f8f"/>
<circle cx="156.10" cy="1223.30" r="3.5" fill="#e3262b"/>
<circle cx="150.00" cy="1230.90" r="3.5" fill="#e3262b"/>
<circle cx="155.10" cy="1236.90" r="3.5" fill="#e3262b"/>
<circle cx="147.00" cy="1240.70" r="3.5" fill="#e3262b"/>
<circle cx="154.20" cy="1241.10" r="3.5" fill="#e3262b"/>
<circle cx="162.10" cy="1243.60" r="3.5" fill="#e3262b"/>
<circle cx="145.60" cy="1247.40" r="3.5" fill="#e3262b"/>
<circle cx="150.40" cy="1250.20" r="3.5" fill="#e3262b"/>
<circle cx="155.70" cy="1252.10" r="3.5" fill="#e3262b"/>
<circle cx="168.40" cy="1252.10" r="3.5" fill="#e3262b"/>
<circle cx="158.90" cy="1257.80" r="3.5" fill="#e3262b"/>
<circle cx="148.10" cy="1267.70" r="3.5" fill="#e3262b"/>
<circle cx="154.50" cy="1266.40" r="3.5" fill="#e3262b"/>
<circle cx="144.30" cy="1275.80" r="3.5" fill="#e3262b"/>
<circle cx="146.60" cy="1280.60" r="3.5" fill="#e3262b"/>
<circle cx="159.90" cy="1282.50" r="3.5" fill="#e3262b"/>
<circle cx="165.50" cy="1279.60" r="3.5" fill="#e3262b"/>
<circle cx="168.40" cy="1285.30" r="3.5" fill="#e3262b"/>
<circle cx="154.20" cy="1297.70" r="3.5" fill="#e3262b"/>
<circle cx="158.90" cy="1298.60" r="3.5" fill="#e3262b"/>
<circle cx="165.90" cy="1299.60" r="3.5" fill="#e3262b"/>
<circle cx="151.30" cy="1331.80" r="3.5" fill="#e3262b"/>
<circle cx="157.00" cy="1255.00" r="3.5" fill="#e3262b"/>
<circle cx="162.70" cy="1282.50" r="3.5" fill="#e3262b"/>
<circle cx="160.00" cy="1245.00" r="3.5" fill="#e3262b"/>
<circle cx="152.00" cy="1260.00" r="3.5" fill="#e3262b"/>
<circle cx="163.00" cy="1262.00" r="3.5" fill="#e3262b"/>
<circle cx="149.00" cy="1256.00" r="3.5" fill="#e3262b"/>
<circle cx="158.00" cy="1270.00" r="3.5" fill="#e3262b"/>
<circle cx="151.00" cy="1288.00" r="3.5" fill="#e3262b"/>
<circle cx="230.60" cy="1193.30" r="3.5" fill="#52b04a"/>
<circle cx="227.60" cy="1204.10" r="3.5" fill="#52b04a"/>
<circle cx="227.20" cy="1220.80" r="3.5" fill="#52b04a"/>
<circle cx="225.30" cy="1227.10" r="3.5" fill="#52b04a"/>
<circle cx="211.50" cy="1233.50" r="3.5" fill="#52b04a"/>
<circle cx="217.70" cy="1240.70" r="3.5" fill="#52b04a"/>
<circle cx="214.90" cy="1253.10" r="3.5" fill="#52b04a"/>
<circle cx="219.60" cy="1255.00" r="3.5" fill="#52b04a"/>
<circle cx="210.20" cy="1256.90" r="3.5" fill="#52b04a"/>
<circle cx="216.80" cy="1260.70" r="3.5" fill="#52b04a"/>
<circle cx="227.80" cy="1256.30" r="3.5" fill="#52b04a"/>
<circle cx="224.00" cy="1265.00" r="3.5" fill="#52b04a"/>
<circle cx="218.30" cy="1296.20" r="3.5" fill="#52b04a"/>
<circle cx="221.00" cy="1241.00" r="3.5" fill="#52b04a"/>
<circle cx="216.00" cy="1252.00" r="3.5" fill="#52b04a"/>
<circle cx="277.40" cy="1198.10" r="3.5" fill="#2994ad"/>
<circle cx="290.60" cy="1205.00" r="3.5" fill="#2994ad"/>
<circle cx="296.50" cy="1222.70" r="3.5" fill="#2994ad"/>
<circle cx="296.20" cy="1228.60" r="3.5" fill="#2994ad"/>
<circle cx="284.70" cy="1234.50" r="3.5" fill="#2994ad"/>
<circle cx="284.00" cy="1241.10" r="3.5" fill="#2994ad"/>
<circle cx="295.80" cy="1245.00" r="3.5" fill="#2994ad"/>
<circle cx="273.10" cy="1248.30" r="3.5" fill="#2994ad"/>
<path d="M220.70 1087.50V1082.00H285.40V1087.50" fill="none" stroke="#262626" stroke-width="1.5"/>
<text x="253.05" y="1077.50" font-size="16" text-anchor="middle">ns</text>
<path d="M156.10 1111.60V1106.10H285.40V1111.60" fill="none" stroke="#262626" stroke-width="1.5"/>
<text x="220.55" y="1102.70" font-size="15.5" text-anchor="middle">***</text>
<path d="M156.10 1132.90V1127.40H220.70V1132.90" fill="none" stroke="#262626" stroke-width="1.5"/>
<text x="188.20" y="1123.90" font-size="15.5" text-anchor="middle">*</text>
<path d="M91.00 1152.10V1146.60H285.40V1152.10" fill="none" stroke="#262626" stroke-width="1.5"/>
<text x="188.00" y="1141.50" font-size="15.5" text-anchor="middle">***</text>
<path d="M91.00 1171.40V1165.90H220.70V1171.40" fill="none" stroke="#262626" stroke-width="1.5"/>
<text x="155.65" y="1163.70" font-size="15.5" text-anchor="middle">***</text>
<path d="M91.00 1191.00V1185.50H156.10V1191.00" fill="none" stroke="#262626" stroke-width="1.5"/>
<text x="123.35" y="1182.10" font-size="15.5" text-anchor="middle">***</text>
<rect x="52.70" y="1061.70" width="271.70" height="320.50" fill="none" stroke="#1a1a1a" stroke-width="2.0"/>
<line x1="48.70" y1="1306.00" x2="52.70" y2="1306.00" stroke="#1a1a1a" stroke-width="1.6"/>
<text x="43.70" y="1311.00" font-size="14.0" text-anchor="end" fill="#333">10</text>
<line x1="48.70" y1="1210.90" x2="52.70" y2="1210.90" stroke="#1a1a1a" stroke-width="1.6"/>
<text x="43.70" y="1215.90" font-size="14.0" text-anchor="end" fill="#333">11</text>
<line x1="48.70" y1="1115.80" x2="52.70" y2="1115.80" stroke="#1a1a1a" stroke-width="1.6"/>
<text x="43.70" y="1120.80" font-size="14.0" text-anchor="end" fill="#333">12</text>
<line x1="91.00" y1="1382.20" x2="91.00" y2="1386.20" stroke="#1a1a1a" stroke-width="1.6"/>
<text x="91.00" y="1400.20" font-size="13.8" text-anchor="middle" fill="#333" textLength="45.00" lengthAdjust="spacingAndGlyphs">4.0-4.5</text>
<text x="91.00" y="1375.20" font-size="14.0" text-anchor="middle" fill="#333">(7)</text>
<line x1="156.10" y1="1382.20" x2="156.10" y2="1386.20" stroke="#1a1a1a" stroke-width="1.6"/>
<text x="156.10" y="1400.20" font-size="13.8" text-anchor="middle" fill="#333" textLength="45.00" lengthAdjust="spacingAndGlyphs">4.5-5.0</text>
<text x="156.10" y="1375.20" font-size="14.0" text-anchor="middle" fill="#333">(30)</text>
<line x1="220.70" y1="1382.20" x2="220.70" y2="1386.20" stroke="#1a1a1a" stroke-width="1.6"/>
<text x="220.70" y="1400.20" font-size="13.8" text-anchor="middle" fill="#333" textLength="45.00" lengthAdjust="spacingAndGlyphs">5.0-6.0</text>
<text x="220.70" y="1375.20" font-size="14.0" text-anchor="middle" fill="#333">(15)</text>
<line x1="285.40" y1="1382.20" x2="285.40" y2="1386.20" stroke="#1a1a1a" stroke-width="1.6"/>
<text x="285.40" y="1400.20" font-size="13.8" text-anchor="middle" fill="#333" textLength="45.00" lengthAdjust="spacingAndGlyphs">6.0-7.0</text>
<text x="285.40" y="1375.20" font-size="14.0" text-anchor="middle" fill="#333">(8)</text>
<text x="186.20" y="1419.00" font-size="17.0" text-anchor="middle" textLength="70.00" lengthAdjust="spacingAndGlyphs">pH range</text>
<text x="19.40" y="1213.70" font-size="16" text-anchor="middle" textLength="141.0" lengthAdjust="spacingAndGlyphs" transform="rotate(-90 19.40 1213.70)">Diversity (Shannon)</text>
<text x="0" y="0" font-size="36" font-weight="bold" fill="#000" transform="translate(361.00 1065.50) scale(1.1 1)">h</text>
<line x1="399.20" y1="1358.90" x2="679.60" y2="1358.90" stroke="#edeef0" stroke-width="1.2"/>
<line x1="399.20" y1="1272.70" x2="679.60" y2="1272.70" stroke="#edeef0" stroke-width="1.2"/>
<line x1="399.20" y1="1186.50" x2="679.60" y2="1186.50" stroke="#edeef0" stroke-width="1.2"/>
<line x1="399.20" y1="1100.30" x2="679.60" y2="1100.30" stroke="#edeef0" stroke-width="1.2"/>
<line x1="399.20" y1="1315.80" x2="679.60" y2="1315.80" stroke="#e2e3e6" stroke-width="1.8"/>
<line x1="399.20" y1="1229.60" x2="679.60" y2="1229.60" stroke="#e2e3e6" stroke-width="1.8"/>
<line x1="399.20" y1="1143.40" x2="679.60" y2="1143.40" stroke="#e2e3e6" stroke-width="1.8"/>
<line x1="439.30" y1="1061.50" x2="439.30" y2="1381.60" stroke="#e5e6e9" stroke-width="2.2"/>
<line x1="506.00" y1="1061.50" x2="506.00" y2="1381.60" stroke="#e5e6e9" stroke-width="2.2"/>
<line x1="572.80" y1="1061.50" x2="572.80" y2="1381.60" stroke="#e5e6e9" stroke-width="2.2"/>
<line x1="639.50" y1="1061.50" x2="639.50" y2="1381.60" stroke="#e5e6e9" stroke-width="2.2"/>
<line x1="439.30" y1="1221.00" x2="439.30" y2="1238.00" stroke="#1e4f8f" stroke-width="2.2"/>
<line x1="439.30" y1="1266.20" x2="439.30" y2="1283.70" stroke="#1e4f8f" stroke-width="2.2"/>
<rect x="415.70" y="1238.00" width="47.10" height="28.20" fill="#fff" stroke="#1e4f8f" stroke-width="2.3"/>
<line x1="415.70" y1="1256.10" x2="462.80" y2="1256.10" stroke="#1e4f8f" stroke-width="3.8"/>
<line x1="506.00" y1="1197.10" x2="506.00" y2="1225.20" stroke="#e3262b" stroke-width="2.2"/>
<line x1="506.00" y1="1252.70" x2="506.00" y2="1276.80" stroke="#e3262b" stroke-width="2.2"/>
<rect x="482.30" y="1225.20" width="47.50" height="27.50" fill="#fff" stroke="#e3262b" stroke-width="2.3"/>
<line x1="482.30" y1="1236.60" x2="529.80" y2="1236.60" stroke="#e3262b" stroke-width="3.8"/>
<line x1="572.80" y1="1193.30" x2="572.80" y2="1214.70" stroke="#52b04a" stroke-width="2.2"/>
<line x1="572.80" y1="1235.60" x2="572.80" y2="1249.80" stroke="#52b04a" stroke-width="2.2"/>
<rect x="548.80" y="1214.70" width="47.40" height="20.90" fill="#fff" stroke="#52b04a" stroke-width="2.3"/>
<line x1="548.80" y1="1227.80" x2="596.20" y2="1227.80" stroke="#52b04a" stroke-width="3.8"/>
<line x1="639.50" y1="1205.00" x2="639.50" y2="1218.60" stroke="#2994ad" stroke-width="2.2"/>
<line x1="639.50" y1="1260.40" x2="639.50" y2="1265.70" stroke="#2994ad" stroke-width="2.2"/>
<rect x="615.70" y="1218.60" width="47.40" height="41.80" fill="#fff" stroke="#2994ad" stroke-width="2.3"/>
<line x1="615.70" y1="1239.40" x2="663.10" y2="1239.40" stroke="#2994ad" stroke-width="3.8"/>
<circle cx="435.90" cy="1219.30" r="3.5" fill="#1e4f8f"/>
<circle cx="437.40" cy="1227.70" r="3.5" fill="#1e4f8f"/>
<circle cx="430.10" cy="1248.70" r="3.5" fill="#1e4f8f"/>
<circle cx="439.20" cy="1256.90" r="3.5" fill="#1e4f8f"/>
<circle cx="439.20" cy="1259.90" r="3.5" fill="#1e4f8f"/>
<circle cx="444.10" cy="1272.70" r="3.5" fill="#1e4f8f"/>
<circle cx="446.70" cy="1284.40" r="3.5" fill="#1e4f8f"/>
<circle cx="501.30" cy="1196.10" r="3.5" fill="#e3262b"/>
<circle cx="498.80" cy="1204.70" r="3.5" fill="#e3262b"/>
<circle cx="509.50" cy="1210.40" r="3.5" fill="#e3262b"/>
<circle cx="497.50" cy="1219.90" r="3.5" fill="#e3262b"/>
<circle cx="504.50" cy="1219.90" r="3.5" fill="#e3262b"/>
<circle cx="519.00" cy="1218.90" r="3.5" fill="#e3262b"/>
<circle cx="504.20" cy="1226.50" r="3.5" fill="#e3262b"/>
<circle cx="517.40" cy="1229.70" r="3.5" fill="#e3262b"/>
<circle cx="494.70" cy="1232.20" r="3.5" fill="#e3262b"/>
<circle cx="506.10" cy="1233.10" r="3.5" fill="#e3262b"/>
<circle cx="493.70" cy="1236.90" r="3.5" fill="#e3262b"/>
<circle cx="497.50" cy="1237.90" r="3.5" fill="#e3262b"/>
<circle cx="506.10" cy="1239.80" r="3.5" fill="#e3262b"/>
<circle cx="512.70" cy="1241.70" r="3.5" fill="#e3262b"/>
<circle cx="515.50" cy="1245.50" r="3.5" fill="#e3262b"/>
<circle cx="496.60" cy="1247.90" r="3.5" fill="#e3262b"/>
<circle cx="509.50" cy="1250.20" r="3.5" fill="#e3262b"/>
<circle cx="512.10" cy="1253.60" r="3.5" fill="#e3262b"/>
<circle cx="500.40" cy="1255.50" r="3.5" fill="#e3262b"/>
<circle cx="508.90" cy="1263.10" r="3.5" fill="#e3262b"/>
<circle cx="504.20" cy="1276.40" r="3.5" fill="#e3262b"/>
<circle cx="516.50" cy="1276.40" r="3.5" fill="#e3262b"/>
<circle cx="519.00" cy="1275.30" r="3.5" fill="#e3262b"/>
<circle cx="504.20" cy="1308.10" r="3.5" fill="#e3262b"/>
<circle cx="513.30" cy="1355.00" r="3.5" fill="#e3262b"/>
<circle cx="503.00" cy="1230.00" r="3.5" fill="#e3262b"/>
<circle cx="508.00" cy="1245.00" r="3.5" fill="#e3262b"/>
<circle cx="500.00" cy="1242.00" r="3.5" fill="#e3262b"/>
<circle cx="510.00" cy="1222.00" r="3.5" fill="#e3262b"/>
<circle cx="505.00" cy="1236.00" r="3.5" fill="#e3262b"/>
<circle cx="566.80" cy="1193.30" r="3.5" fill="#52b04a"/>
<circle cx="577.80" cy="1199.00" r="3.5" fill="#52b04a"/>
<circle cx="583.50" cy="1211.30" r="3.5" fill="#52b04a"/>
<circle cx="579.70" cy="1214.20" r="3.5" fill="#52b04a"/>
<circle cx="570.60" cy="1217.00" r="3.5" fill="#52b04a"/>
<circle cx="579.10" cy="1224.00" r="3.5" fill="#52b04a"/>
<circle cx="562.60" cy="1227.80" r="3.5" fill="#52b04a"/>
<circle cx="567.70" cy="1230.90" r="3.5" fill="#52b04a"/>
<circle cx="568.70" cy="1235.00" r="3.5" fill="#52b04a"/>
<circle cx="580.50" cy="1236.60" r="3.5" fill="#52b04a"/>
<circle cx="570.20" cy="1239.80" r="3.5" fill="#52b04a"/>
<circle cx="575.90" cy="1249.30" r="3.5" fill="#52b04a"/>
<circle cx="569.60" cy="1287.80" r="3.5" fill="#52b04a"/>
<circle cx="574.00" cy="1228.00" r="3.5" fill="#52b04a"/>
<circle cx="565.00" cy="1222.00" r="3.5" fill="#52b04a"/>
<circle cx="644.80" cy="1204.70" r="3.5" fill="#2994ad"/>
<circle cx="626.80" cy="1213.00" r="3.5" fill="#2994ad"/>
<circle cx="650.60" cy="1220.90" r="3.5" fill="#2994ad"/>
<circle cx="631.30" cy="1234.80" r="3.5" fill="#2994ad"/>
<circle cx="638.10" cy="1243.50" r="3.5" fill="#2994ad"/>
<circle cx="638.80" cy="1259.10" r="3.5" fill="#2994ad"/>
<circle cx="650.60" cy="1265.30" r="3.5" fill="#2994ad"/>
<circle cx="650.60" cy="1266.70" r="3.5" fill="#2994ad"/>
<path d="M572.80 1087.50V1082.00H639.50V1087.50" fill="none" stroke="#262626" stroke-width="1.5"/>
<text x="606.15" y="1079.00" font-size="16" text-anchor="middle">ns</text>
<path d="M506.00 1111.70V1106.20H639.50V1111.70" fill="none" stroke="#262626" stroke-width="1.5"/>
<text x="572.75" y="1102.70" font-size="16" text-anchor="middle">ns</text>
<path d="M506.00 1132.50V1127.00H572.80V1132.50" fill="none" stroke="#262626" stroke-width="1.5"/>
<text x="539.40" y="1123.90" font-size="16" text-anchor="middle">ns</text>
<path d="M439.30 1152.00V1146.50H639.50V1152.00" fill="none" stroke="#262626" stroke-width="1.5"/>
<text x="539.40" y="1143.50" font-size="16" text-anchor="middle">ns</text>
<path d="M439.30 1171.50V1166.00H572.80V1171.50" fill="none" stroke="#262626" stroke-width="1.5"/>
<text x="505.85" y="1163.80" font-size="15.5" text-anchor="middle">*</text>
<path d="M439.30 1190.90V1185.40H506.00V1190.90" fill="none" stroke="#262626" stroke-width="1.5"/>
<text x="472.65" y="1181.60" font-size="16" text-anchor="middle">ns</text>
<rect x="399.20" y="1061.50" width="280.40" height="320.10" fill="none" stroke="#1a1a1a" stroke-width="2.0"/>
<line x1="395.20" y1="1315.80" x2="399.20" y2="1315.80" stroke="#1a1a1a" stroke-width="1.6"/>
<text x="393.30" y="1320.80" font-size="14.0" text-anchor="end" fill="#333">5</text>
<line x1="395.20" y1="1229.60" x2="399.20" y2="1229.60" stroke="#1a1a1a" stroke-width="1.6"/>
<text x="393.30" y="1234.60" font-size="14.0" text-anchor="end" fill="#333">7</text>
<line x1="395.20" y1="1143.40" x2="399.20" y2="1143.40" stroke="#1a1a1a" stroke-width="1.6"/>
<text x="393.30" y="1148.40" font-size="14.0" text-anchor="end" fill="#333">9</text>
<line x1="439.30" y1="1381.60" x2="439.30" y2="1385.60" stroke="#1a1a1a" stroke-width="1.6"/>
<text x="439.30" y="1400.20" font-size="13.8" text-anchor="middle" fill="#333" textLength="45.00" lengthAdjust="spacingAndGlyphs">4.0-4.5</text>
<text x="439.30" y="1375.20" font-size="14.0" text-anchor="middle" fill="#333">(7)</text>
<line x1="506.00" y1="1381.60" x2="506.00" y2="1385.60" stroke="#1a1a1a" stroke-width="1.6"/>
<text x="506.00" y="1400.20" font-size="13.8" text-anchor="middle" fill="#333" textLength="45.00" lengthAdjust="spacingAndGlyphs">4.5-5.0</text>
<text x="506.00" y="1375.20" font-size="14.0" text-anchor="middle" fill="#333">(30)</text>
<line x1="572.80" y1="1381.60" x2="572.80" y2="1385.60" stroke="#1a1a1a" stroke-width="1.6"/>
<text x="572.80" y="1400.20" font-size="13.8" text-anchor="middle" fill="#333" textLength="45.00" lengthAdjust="spacingAndGlyphs">5.0-6.0</text>
<text x="572.80" y="1375.20" font-size="14.0" text-anchor="middle" fill="#333">(15)</text>
<line x1="639.50" y1="1381.60" x2="639.50" y2="1385.60" stroke="#1a1a1a" stroke-width="1.6"/>
<text x="639.50" y="1400.20" font-size="13.8" text-anchor="middle" fill="#333" textLength="45.00" lengthAdjust="spacingAndGlyphs">6.0-7.0</text>
<text x="639.50" y="1375.20" font-size="14.0" text-anchor="middle" fill="#333">(8)</text>
<text x="541.10" y="1419.50" font-size="17.0" text-anchor="middle" textLength="70.00" lengthAdjust="spacingAndGlyphs">pH range</text>
<text x="368.80" y="1215.00" font-size="16" text-anchor="middle" textLength="138.5" lengthAdjust="spacingAndGlyphs" transform="rotate(-90 368.80 1215.00)">Diversity (Shannon)</text>
</g>
</svg>
</body></html>
